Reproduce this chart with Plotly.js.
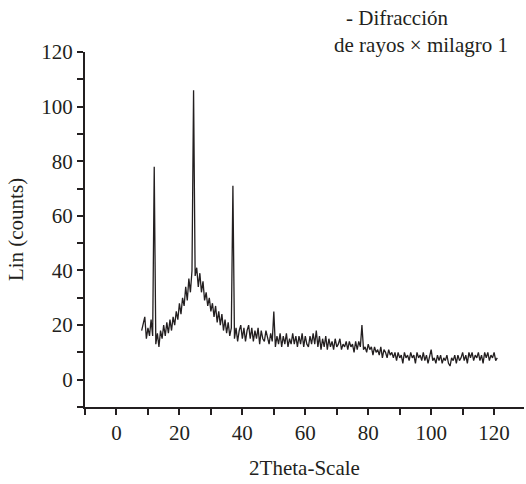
<!DOCTYPE html>
<html>
<head>
<meta charset="utf-8">
<script src="https://cdn.plot.ly/plotly-3.0.1.min.js"></script>
<style>
html,body{margin:0;padding:0;background:#fff;}
#chart{width:526px;height:484px;}
</style>
</head>
<body>
<div id="chart"></div>
<script>
// 2Theta sampling: start and step (degrees)
var thetaStart = 8.0;
var thetaStep = 0.5;
// Intensity (Lin counts), 8.0 .. 121.0
var counts = [
  18, 21, 23, 15, 19, 16, 22, 16, 78, 13,
  17, 12, 18, 15, 20, 16, 21, 17, 22, 18,
  23, 20, 25, 22, 28, 24, 30, 27, 34, 29,
  37, 32, 40, 106, 38, 41, 34, 39, 32, 36,
  29, 32, 27, 30, 25, 28, 23, 27, 21, 25,
  20, 24, 18, 22, 17, 21, 16, 19, 71, 15,
  19, 14, 18, 20, 15, 19, 14, 18, 20, 15,
  19, 14, 18, 15, 19, 13, 18, 15, 14, 18,
  16, 13, 17, 14, 25, 12, 16, 13, 17, 12,
  16, 13, 17, 12, 15, 13, 17, 13, 16, 12,
  16, 13, 17, 12, 16, 13, 12, 16, 13, 17,
  13, 18, 12, 16, 11, 15, 12, 16, 11, 15,
  12, 14, 11, 15, 12, 13, 15, 11, 13, 12,
  14, 11, 14, 12, 13, 10, 14, 11, 14, 12,
  20, 11, 12, 10, 13, 11, 12, 9, 12, 10,
  11, 9, 12, 8, 11, 10, 8, 11, 9, 10,
  8, 10, 7, 10, 8, 9, 6, 10, 8, 9,
  7, 10, 8, 9, 6, 10, 8, 9, 7, 10,
  7, 9, 6, 9, 11, 7, 8, 6, 9, 7,
  9, 6, 8, 7, 9, 6, 5, 8, 7, 9,
  6, 9, 7, 8, 10, 7, 9, 6, 10, 8,
  10, 7, 9, 8, 10, 7, 9, 6, 10, 8,
  10, 7, 9, 8, 10, 7, 8
];
// Tick labels
var xTickVals = [-10, 0, 10, 20, 30, 40, 50, 60, 70, 80, 90, 100, 110, 120];
var xTickText = ['', '0', '', '20', '', '40', '', '60', '', '80', '', '100', '', '120'];
var yTickVals = [-10, 0, 10, 20, 30, 40, 50, 60, 70, 80, 90, 100, 110, 120];
var yTickText = ['', '0', '', '20', '', '40', '', '60', '', '80', '', '100', '', '120'];

var fontFam = '"Liberation Serif", "DejaVu Serif", serif';
var ink = '#231f20';

var trace = {
  type: 'scatter',
  mode: 'lines',
  x0: thetaStart,
  dx: thetaStep,
  y: counts,
  line: {color: ink, width: 1.3},
  hoverinfo: 'skip',
  showlegend: false
};

var layout = {
  width: 526,
  height: 484,
  margin: {l: 85, r: 2, t: 52, b: 77},
  paper_bgcolor: '#ffffff',
  plot_bgcolor: '#ffffff',
  font: {family: fontFam, size: 21, color: ink},
  xaxis: {
    range: [-10, 129.5],
    tickmode: 'array',
    tickvals: xTickVals,
    ticktext: xTickText,
    ticks: 'outside',
    ticklen: 6,
    tickwidth: 2,
    tickcolor: ink,
    showline: true,
    linecolor: ink,
    linewidth: 2,
    showgrid: false,
    zeroline: false,
    tickfont: {family: fontFam, size: 21, color: ink},
    title: {text: '2Theta-Scale', font: {family: fontFam, size: 21, color: ink}, standoff: 16}
  },
  yaxis: {
    range: [-10, 120],
    tickmode: 'array',
    tickvals: yTickVals,
    ticktext: yTickText,
    ticks: 'outside',
    ticklen: 6,
    tickwidth: 2,
    tickcolor: ink,
    showline: true,
    linecolor: ink,
    linewidth: 2,
    showgrid: false,
    zeroline: false,
    tickfont: {family: fontFam, size: 21, color: ink},
    title: {text: 'Lin (counts)', font: {family: fontFam, size: 21, color: ink}, standoff: 12}
  },
  annotations: [
    {text: '- Difracción', xref: 'paper', yref: 'paper', x: 0.59, y: 1.096,
     xanchor: 'left', yanchor: 'middle', showarrow: false,
     font: {family: fontFam, size: 21, color: ink}},
    {text: 'de rayos × milagro 1', xref: 'paper', yref: 'paper', x: 0.562, y: 1.020,
     xanchor: 'left', yanchor: 'middle', showarrow: false,
     font: {family: fontFam, size: 21, color: ink}}
  ]
};

Plotly.newPlot('chart', [trace], layout, {displayModeBar: false, staticPlot: true});
</script>
</body>
</html>
